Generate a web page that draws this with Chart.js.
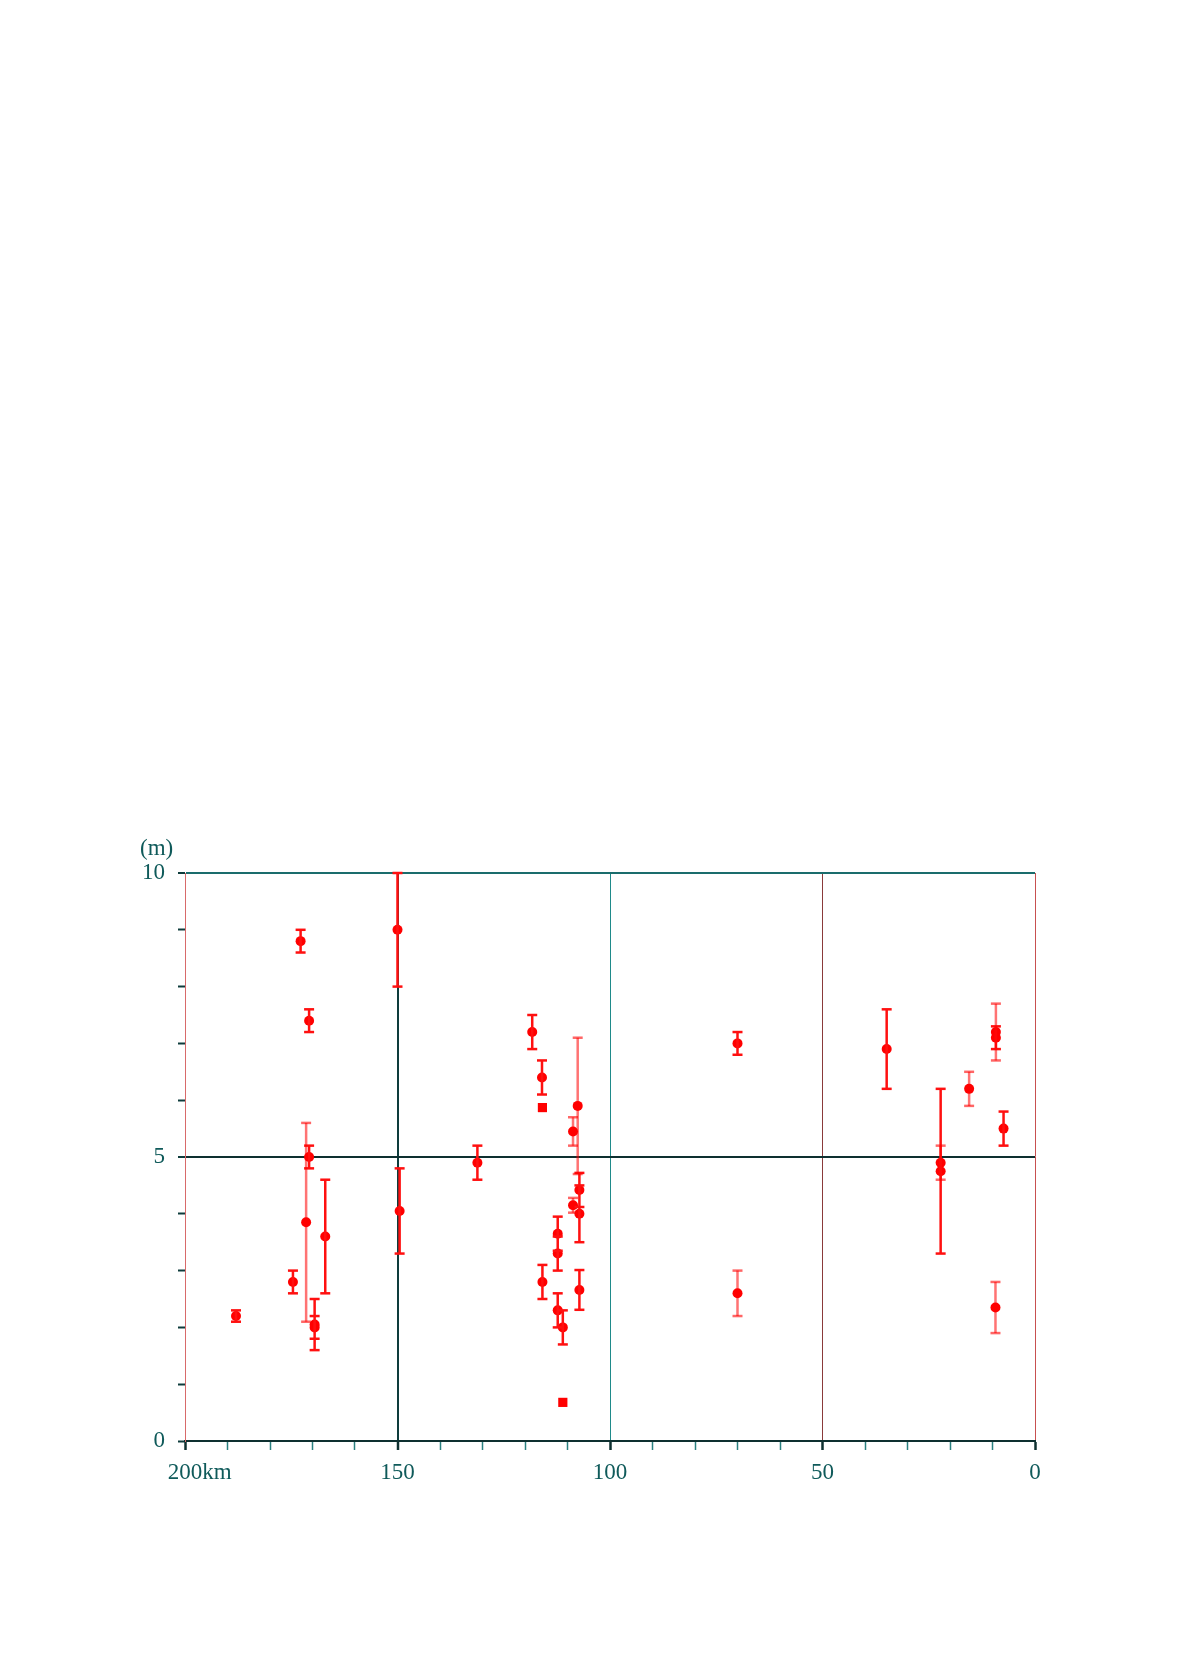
<!DOCTYPE html>
<html>
<head>
<meta charset="utf-8">
<script src="https://cdn.jsdelivr.net/npm/chart.js@4.4.1/dist/chart.umd.min.js"></script>
<style>
  html, body { margin: 0; padding: 0; background: #fff; }
  body { width: 1184px; height: 1679px; position: relative; }
  #wrap { position: absolute; left: 140px; top: 830px; width: 925px; height: 666px; }
</style>
</head>
<body>
<div id="wrap"><canvas id="chart"></canvas></div>
<script>
// distance (km) / height (m) / half error (m)
var solidKm     = [188.0, 174.6, 172.8, 170.8, 170.8, 169.5, 169.5, 167.0, 150.0, 149.5, 131.2, 118.3, 116.0, 115.9, 112.3, 112.3, 112.3, 111.1, 107.2, 107.2, 107.2, 70.0, 34.9, 22.2, 9.2, 7.4];
var solidHeight = [2.2,   2.8,   8.8,   7.4,   5.0,   2.05,  2.0,   3.6,   9.0,   4.05,  4.9,   7.2,   6.4,   2.8,   3.65,  3.3,   2.3,   2.0,   4.42,  4.0,   2.66,  7.0,  6.9,  4.75, 7.1, 5.5];
var solidErr    = [0.1,   0.2,   0.2,   0.2,   0.2,   0.45,  0.2,   1.0,   1.0,   0.75,  0.3,   0.3,   0.3,   0.3,   0.3,   0.3,   0.3,   0.3,   0.3,   0.5,   0.35,  0.2,  0.7,  1.45, 0.2, 0.3];

var lightKm     = [171.5, 107.6, 108.7, 108.7, 70.0, 22.2, 15.5, 9.2, 9.3];
var lightHeight = [3.85,  5.9,   5.45,  4.15,  2.6,  4.9,  6.2,  7.2, 2.35];
var lightErr    = [1.75,  1.2,   0.25,  0.13,  0.4,  0.3,  0.3,  0.5, 0.45];

var squareKm     = [115.9, 111.1];
var squareHeight = [5.87,  0.68];

var xLabels = {200: '200', 150: '150', 100: '100', 50: '50', 0: '0'};
var yLabels = {0: '0', 5: '5', 10: '10'};

var textColor = '#0f5a5a';
var fontSize = 23;
var labelFont = { family: 'Liberation Serif', size: fontSize };

function errorSegments(km, h, e) {
  var out = [];
  for (var i = 0; i < km.length; i++) {
    out.push({ x: km[i], y: h[i] - e[i] });
    out.push({ x: km[i], y: h[i] + e[i] });
    out.push({ x: km[i], y: null });
  }
  return out;
}

function dots(km, h) {
  return km.map(function (k, i) { return { x: k, y: h[i] }; });
}

var xGrid = {
  200: ['#d86a6a', 1],
  150: ['#0e3c3c', 2],
  100: ['#1f8a8a', 1],
  50:  ['#8a3a3a', 1],
  0:   ['#c85050', 1]
};
var yGrid = {
  10: ['#1a6c6c', 2],
  5:  ['#0e3030', 2]
};

var extraText = {
  id: 'extraText',
  afterDraw: function (chart) {
    var ctx = chart.ctx;
    var xs = chart.scales.x, ys = chart.scales.y;
    ctx.save();
    ctx.fillStyle = textColor;
    ctx.font = fontSize + 'px "Liberation Serif"';
    ctx.textBaseline = 'middle';
    ctx.textAlign = 'left';
    ctx.fillText('(m)', ys.left, ys.top - 24);
    // unit after the first tick label
    var w = ctx.measureText('200').width;
    var ly = xs.top + 9 + 9 + fontSize * 1.2 / 2;
    ctx.fillText('km', xs.getPixelForValue(200) + w / 2, ly);
    ctx.restore();
  }
};

var ctx = document.getElementById('chart').getContext('2d');
window.heightChart = new Chart(ctx, {
  type: 'scatter',
  data: {
    datasets: [{
      label: 'error light',
      data: errorSegments(lightKm, lightHeight, lightErr),
      showLine: true,
      spanGaps: false,
      borderColor: 'rgba(255,0,0,0.55)',
      backgroundColor: 'rgba(255,0,0,0.55)',
      borderWidth: 2.5,
      pointStyle: 'line',
      pointRadius: 5,
      pointBorderWidth: 2.5,
      pointBorderColor: 'rgba(255,0,0,0.6)',
      clip: false
    }, {
      label: 'error',
      data: errorSegments(solidKm, solidHeight, solidErr),
      showLine: true,
      spanGaps: false,
      borderColor: '#ff1010',
      backgroundColor: '#ff1010',
      borderWidth: 2.5,
      pointStyle: 'line',
      pointRadius: 5,
      pointBorderWidth: 2.5,
      pointBorderColor: '#ff1010',
      clip: false
    }, {
      label: 'height',
      data: dots(solidKm.concat(lightKm), solidHeight.concat(lightHeight)),
      backgroundColor: '#ff0000',
      borderColor: '#ff0000',
      borderWidth: 0,
      pointRadius: 5
    }, {
      label: 'square',
      data: dots(squareKm, squareHeight),
      pointStyle: 'rect',
      backgroundColor: '#ff0000',
      borderColor: '#ff0000',
      borderWidth: 0,
      pointRadius: 6.5
    }]
  },
  options: {
    responsive: true,
    maintainAspectRatio: false,
    animation: false,
    layout: { padding: { top: 43, right: 30, bottom: 10, left: 0 } },
    plugins: {
      legend: { display: false },
      tooltip: { enabled: false }
    },
    scales: {
      x: {
        type: 'linear',
        min: 0,
        max: 200,
        reverse: true,
        afterFit: function (axis) { axis.height = 45; },
        border: { color: '#0e3030', width: 2 },
        grid: {
          color: function (c) { var g = xGrid[c.tick.value]; return g ? g[0] : 'rgba(0,0,0,0)'; },
          lineWidth: function (c) { var g = xGrid[c.tick.value]; return g ? g[1] : 1; },
          tickColor: function (c) { return c.tick.value % 50 === 0 ? '#0e3030' : '#2a8080'; },
          tickWidth: function (c) { return c.tick.value % 50 === 0 ? 2.5 : 1.5; },
          tickLength: 9
        },
        ticks: {
          stepSize: 10,
          autoSkip: false,
          maxRotation: 0,
          padding: 9,
          color: textColor,
          font: labelFont,
          callback: function (v) { return xLabels[v] !== undefined ? xLabels[v] : ''; }
        }
      },
      y: {
        min: 0,
        max: 10,
        afterFit: function (axis) { axis.width = 45; },
        border: { color: '#d86a6a', width: 1 },
        grid: {
          color: function (c) { var g = yGrid[c.tick.value]; return g ? g[0] : 'rgba(0,0,0,0)'; },
          lineWidth: function (c) { var g = yGrid[c.tick.value]; return g ? g[1] : 1; },
          tickColor: '#0e3c3c',
          tickWidth: 2,
          tickLength: 7
        },
        ticks: {
          stepSize: 1,
          autoSkip: false,
          padding: 13,
          color: textColor,
          font: labelFont,
          callback: function (v) { return yLabels[v] !== undefined ? yLabels[v] : ''; }
        }
      }
    }
  },
  plugins: [extraText]
});
</script>
</body>
</html>
